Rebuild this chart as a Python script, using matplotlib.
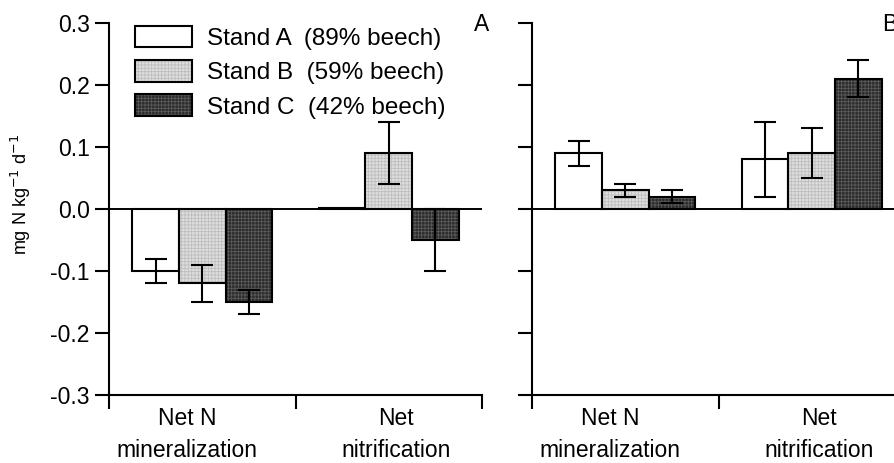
import numpy as np
import matplotlib
matplotlib.use("Agg")
import matplotlib.pyplot as plt
from matplotlib.patches import Patch

plt.rcParams['font.family'] = ['Liberation Sans', 'DejaVu Sans']
plt.rcParams['hatch.linewidth'] = 0.6

# data
processes = ["Net N\nmineralization", "Net\nnitrification"]
stands = ["Stand A  (89% beech)", "Stand B  (59% beech)", "Stand C  (42% beech)"]

# panel A: rows = stands, cols = processes
vals_a = [[-0.10, 0.002], [-0.12, 0.09], [-0.15, -0.05]]
err_a = [[0.02, 0.0], [0.03, 0.05], [0.02, 0.05]]
# panel B
vals_b = [[0.09, 0.08], [0.03, 0.09], [0.02, 0.21]]
err_b = [[0.02, 0.06], [0.01, 0.04], [0.01, 0.03]]

faces = ["white", "#dedede", "#2b2b2b"]
hatch_cols = ["white", "#bdbdbd", "#5a5a5a"]
hatches = [None, "+++++", "+++++"]

fig = plt.figure(figsize=(8.95, 4.63), dpi=100)
ax_a = fig.add_axes([0.1218, 0.1469, 0.4168, 0.8035])
ax_b = fig.add_axes([0.5944, 0.1469, 0.4168, 0.8035])

width = 0.25
centers = np.array([0.5, 1.5])
handles = []
for ax, vals, errs in [(ax_a, vals_a, err_a), (ax_b, vals_b, err_b)]:
    ax.axhline(0, color="black", lw=1.4, zorder=1)
    for i in range(3):
        xs = centers + (i - 1) * width
        ax.bar(xs, vals[i], width, color=faces[i], edgecolor=hatch_cols[i],
               hatch=hatches[i], linewidth=0, zorder=2)
        ax.bar(xs, vals[i], width, fill=False, edgecolor="black",
               linewidth=1.5, zorder=3)
        e = np.array(errs[i])
        m = e > 0
        ax.errorbar(xs[m], np.array(vals[i])[m], yerr=e[m], fmt="none",
                    ecolor="black", elinewidth=1.5, capsize=8, capthick=1.5, zorder=4)
        if ax is ax_a:
            handles.append((Patch(facecolor=faces[i], edgecolor=hatch_cols[i],
                                  hatch=hatches[i], linewidth=0),
                            Patch(fill=False, edgecolor="black", linewidth=1.5)))

    ax.set_xlim(0, 2)
    ax.set_ylim(-0.3, 0.3)
    for s in ["top", "right"]:
        ax.spines[s].set_visible(False)
    for s in ["left", "bottom"]:
        ax.spines[s].set_linewidth(1.5)
    ax.set_yticks([-0.3, -0.2, -0.1, 0.0, 0.1, 0.2, 0.3])
    ax.set_xticks([0, 1, 2])
    ax.set_xticklabels([])
    ax.set_xticks([0.42, 1.54], minor=True)
    ax.set_xticklabels(processes, minor=True, fontsize=16.5, linespacing=1.5)
    ax.tick_params(axis="x", which="minor", length=0, pad=9)
    ax.tick_params(axis="both", which="major", direction="out", length=10,
                   width=1.5, labelsize=16.5, pad=4)

ax_a.set_yticklabels([f"{v:.1f}" for v in ax_a.get_yticks()])
ax_b.set_yticklabels([])
ax_a.set_ylabel("mg N kg$^{-1}$ d$^{-1}$", fontsize=13)
ax_a.yaxis.set_label_coords(-0.204, 0.54)

ax_a.text(1.0, 0.995, "A", transform=ax_a.transAxes, fontsize=16.5, ha="center", va="center")
ax_b.text(0.938, 0.995, "B", transform=ax_b.transAxes, fontsize=16.5, ha="left", va="center")

ax_a.legend(handles, stands, loc="upper left", bbox_to_anchor=(0.0697, 0.993),
            frameon=False, fontsize=17.5, handlelength=2.33, handleheight=1.0,
            labelspacing=0.42, handletextpad=0.62, borderpad=0, borderaxespad=0)

fig.savefig("out.png", dpi=100)
